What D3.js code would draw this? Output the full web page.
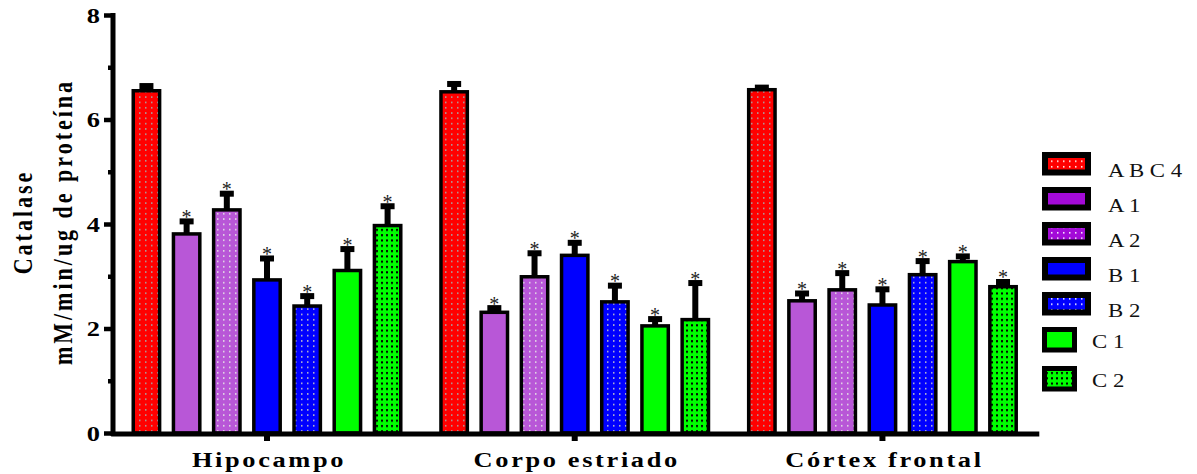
<!DOCTYPE html>
<html>
<head>
<meta charset="utf-8">
<script src="https://cdn.jsdelivr.net/npm/d3@7"></script>
<style>
  html, body { margin: 0; padding: 0; background: #fff; }
  svg { display: block; }
</style>
</head>
<body>
<svg id="chart" width="1197" height="474"></svg>
<script>
// ---------------- DATA ----------------
const groups = ["Hipocampo", "Corpo estriado", "Córtex frontal"];
const series = ["A B C 4", "A 1", "A 2", "B 1", "B 2", "C 1", "C 2"];
const hipocampoMeans = [6.55, 3.81, 4.27, 2.93, 2.43, 3.11, 3.97];
const hipocampoErrors = [0.09, 0.24, 0.31, 0.41, 0.19, 0.41, 0.37];
const corpoMeans = [6.53, 2.31, 2.99, 3.40, 2.51, 2.05, 2.17];
const corpoErrors = [0.15, 0.08, 0.45, 0.24, 0.31, 0.13, 0.70];
const cortexMeans = [6.57, 2.53, 2.74, 2.45, 3.03, 3.28, 2.80];
const cortexErrors = [0.04, 0.14, 0.32, 0.30, 0.26, 0.10, 0.09];
const significant = [false, true, true, true, true, true, true];
const majorTicks = [0, 2, 4, 6, 8];
const minorTicks = [1, 3, 5, 7];
const yTitleLine1 = "Catalase";
const yTitleLine2 = "mM/min/ug de proteína";

const meansByGroup = [hipocampoMeans, corpoMeans, cortexMeans];
const errorsByGroup = [hipocampoErrors, corpoErrors, cortexErrors];
const rows = [];
groups.forEach((g, gi) => series.forEach((s, si) => rows.push({
  group: g, series: s, si, mean: meansByGroup[gi][si], err: errorsByGroup[gi][si], sig: significant[si]
})));

// ---------------- STYLE ----------------
const barFill = ["url(#pRed)", "#b857d7", "url(#pPurple)", "#0000ff", "url(#pBlue)", "#00ff00", "url(#pGreen)"];
const legendFill = ["url(#lRed)", "#a30ad8", "url(#lPurple)", "#0000ff", "url(#lBlue)", "#00ff00", "url(#pGreen)"];

const svg = d3.select("#chart");
const defs = svg.append("defs");
function dotPattern(id, bg, dot, w, h, ds) {
  const p = defs.append("pattern").attr("id", id).attr("patternUnits", "userSpaceOnUse")
    .attr("width", w).attr("height", h);
  p.append("rect").attr("width", w).attr("height", h).attr("fill", bg);
  p.append("rect").attr("x", 1).attr("y", 1).attr("width", ds).attr("height", ds).attr("fill", dot);
}
dotPattern("pRed", "#ff0000", "#a8a8a8", 6, 5.3, 1.5);
dotPattern("pPurple", "#b857d7", "#e6e6e6", 6, 5.3, 1.5);
dotPattern("pBlue", "#0000ff", "#c8c8c8", 6, 5.3, 1.5);
dotPattern("pGreen", "#00ff00", "#000000", 5, 5.3, 2);
dotPattern("lRed", "#ff0000", "#ffffff", 6, 5.5, 1.5);
dotPattern("lPurple", "#a30ad8", "#ffffff", 6, 5.5, 1.5);
dotPattern("lBlue", "#0000ff", "#ffffff", 6, 5.5, 1.5);

// ---------------- SCALES ----------------
const y = d3.scaleLinear().domain([0, 8]).range([433, 15]);
const x0 = d3.scaleBand().domain(groups).range([113.15, 1036.3]).padding(0);
const x1 = d3.scaleBand().domain(series).range([0, x0.bandwidth()]).paddingInner(0.344).paddingOuter(0.5);

const serif = "'Liberation Serif', 'Times New Roman', serif";

// ---------------- BARS ----------------
const bw = x1.bandwidth();
const barG = svg.append("g");
barG.selectAll("rect.bar").data(rows).join("rect")
  .attr("class", "bar")
  .attr("x", d => x0(d.group) + x1(d.series))
  .attr("y", d => y(d.mean))
  .attr("width", bw)
  .attr("height", d => y(0) - y(d.mean))
  .attr("fill", d => barFill[d.si])
  .attr("stroke", "#000").attr("stroke-width", 3.5);

// error bars
const errG = svg.append("g");
errG.selectAll("rect.ev").data(rows).join("rect")
  .attr("x", d => x0(d.group) + x1(d.series) + bw / 2 - 3)
  .attr("y", d => y(d.mean + d.err))
  .attr("width", 6)
  .attr("height", d => y(d.mean) - y(d.mean + d.err))
  .attr("fill", "#000");
errG.selectAll("rect.cap").data(rows).join("rect")
  .attr("x", d => x0(d.group) + x1(d.series) + bw / 2 - 7)
  .attr("y", d => y(d.mean + d.err) - 3)
  .attr("width", 14)
  .attr("height", 6)
  .attr("fill", "#000");

// asterisks
svg.append("g").selectAll("text").data(rows.filter(d => d.sig)).join("text")
  .attr("x", d => x0(d.group) + x1(d.series) + bw / 2)
  .attr("y", d => y(d.mean + d.err) + 2.5)
  .attr("text-anchor", "middle")
  .attr("font-family", serif)
  .attr("font-size", 20)
  .attr("fill", "#222")
  .text("*");

// ---------------- AXES ----------------
const yAxis = svg.append("g").attr("transform", "translate(112.5,0)")
  .call(d3.axisLeft(y).tickValues(majorTicks).tickSize(8.5).tickSizeOuter(0).tickFormat(d3.format("d")));
const yMinor = svg.append("g").attr("transform", "translate(112.5,0)")
  .call(d3.axisLeft(y).tickValues(minorTicks).tickSize(4.5).tickSizeOuter(0).tickFormat(""));
yMinor.select(".domain").remove();
[yAxis, yMinor].forEach(a => {
  a.selectAll(".tick line").attr("stroke", "#000").attr("stroke-width", 4.5);
});
yAxis.select(".domain").attr("stroke", "#000").attr("stroke-width", 5).attr("stroke-linecap", "square");
yAxis.selectAll(".tick text")
  .attr("x", 0).attr("dy", "0.34em")
  .attr("transform", "translate(-12.5,0) scale(1.2,1)")
  .attr("font-family", serif).attr("font-size", 22).attr("font-weight", "bold").attr("fill", "#000")
  .attr("text-anchor", "end");

const xAxis = svg.append("g").attr("transform", "translate(0,433.5)")
  .call(d3.axisBottom(x0).tickSize(7.5).tickSizeOuter(0));
xAxis.select(".domain").attr("stroke", "#000").attr("stroke-width", 5).attr("stroke-linecap", "square");
xAxis.selectAll(".tick line").attr("stroke", "#000").attr("stroke-width", 6);
xAxis.selectAll(".tick text")
  .attr("y", 0).attr("dy", 0)
  .attr("transform", "translate(2,33.5) scale(1.2,1)")
  .attr("font-family", serif).attr("font-size", 22).attr("font-weight", "bold").attr("fill", "#000")
  .attr("letter-spacing", 2.2)
  .attr("text-anchor", "middle");
yAxis.raise(); yMinor.raise(); xAxis.raise();

// y title
[[yTitleLine1, 31.7], [yTitleLine2, 71.7]].forEach(([t, xx]) => {
  svg.append("text")
    .attr("transform", `translate(${xx},222) scale(1.2,1) rotate(-90)`)
    .attr("text-anchor", "middle")
    .attr("font-family", serif).attr("font-size", 22).attr("font-weight", "bold")
    .attr("letter-spacing", 3)
    .attr("fill", "#000")
    .text(t);
});

// ---------------- LEGEND ----------------
const legend = svg.append("g");
series.forEach((s, i) => {
  const small = i >= 5;
  const top = 152 + i * 35 + (i === 6 ? 4 : 0);
  const sw = small ? 5 : 6;
  const ow = small ? 35 : 49;
  const oh = small ? 25.5 : 23.5;
  legend.append("rect")
    .attr("x", 1042 + sw / 2).attr("y", top + sw / 2)
    .attr("width", ow - sw).attr("height", oh - sw)
    .attr("fill", legendFill[i]).attr("stroke", "#000").attr("stroke-width", sw);
  legend.append("text")
    .attr("transform", `translate(${small ? 1092 : 1108},${top + (small ? 21 : 25)}) scale(1.2,1)`)
    .attr("font-family", serif).attr("font-size", 19).attr("fill", "#111")
    .text(s);
});
</script>
</body>
</html>
